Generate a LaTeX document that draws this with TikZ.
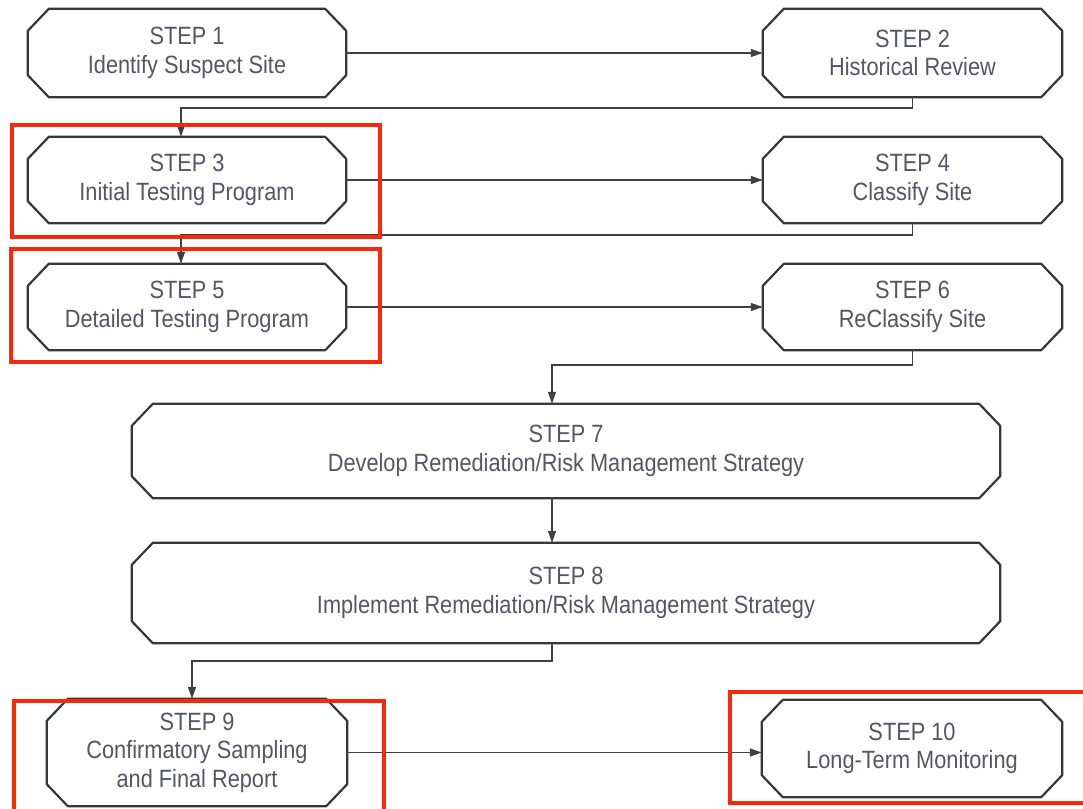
\documentclass[tikz,border=0pt]{standalone}
\usepackage{xcolor}
\usepackage{fontspec}
\setmainfont{Liberation Sans}[FakeStretch=0.87]
\usetikzlibrary{arrows.meta}

\definecolor{boxline}{RGB}{55,55,55}
\definecolor{steptext}{RGB}{85,85,100}
\definecolor{markred}{RGB}{250,40,10}

\tikzset{
  stepbox/.style={rectangle, inner sep=0pt, align=center, text=steptext,
    font=\fontsize{25}{28.5}\selectfont},
  flow/.style={draw=black!75, line width=1.3pt, -{Triangle[length=12pt,width=8pt]}},
  redframe/.style={draw=markred, line width=4pt}
}

\begin{document}
\begin{tikzpicture}[x=1pt,y=-1pt]
    \useasboundingbox (0,0) rectangle (1083,808);

    % 步骤框
    \node[stepbox, minimum width=318pt, minimum height=88pt] (s1) at (187,53) {STEP 1\\Identify Suspect Site};
    \node[stepbox, minimum width=299pt, minimum height=88pt] (s2) at (912.5,53) {STEP 2\\Historical Review};
    \node[stepbox, minimum width=318pt, minimum height=86pt] (s3) at (187,180) {STEP 3\\Initial Testing Program};
    \node[stepbox, minimum width=299pt, minimum height=86pt] (s4) at (912.5,180) {STEP 4\\Classify Site};
    \node[stepbox, minimum width=318pt, minimum height=86pt] (s5) at (187,307) {STEP 5\\Detailed Testing Program};
    \node[stepbox, minimum width=299pt, minimum height=86pt] (s6) at (912.5,307) {STEP 6\\ReClassify Site};
    \node[stepbox, minimum width=868pt, minimum height=94pt] (s7) at (566,451) {STEP 7\\Develop Remediation/Risk Management Strategy};
    \node[stepbox, minimum width=868pt, minimum height=100pt] (s8) at (566,593) {STEP 8\\Implement Remediation/Risk Management Strategy};
    \node[stepbox, minimum width=300pt, minimum height=107pt] (s9) at (197,752.5) {STEP 9\\Confirmatory Sampling\\and Final Report};
    \node[stepbox, minimum width=300pt, minimum height=97pt] (s10) at (912,748.5) {STEP 10\\Long-Term Monitoring};

    % 切角边框
    \foreach \n in {s1,s2,s3,s4,s5,s6,s7,s8,s9,s10}
      \draw[boxline, line width=2.2pt, line join=round]
        ([xshift=21pt]\n.north west) -- ([xshift=-21pt]\n.north east)
        -- ([yshift=-22pt]\n.north east) -- ([yshift=22pt]\n.south east)
        -- ([xshift=-21pt]\n.south east) -- ([xshift=21pt]\n.south west)
        -- ([yshift=22pt]\n.south west) -- ([yshift=-22pt]\n.north west) -- cycle;

    % 转折点
    \coordinate (j1) at (181,108);
    \coordinate (j2) at (181,235);
    \coordinate (j3) at (552,365);
    \coordinate (j4) at (192,661);

    % 连线
    \draw[flow] (s1.east) -- (s1.east -| s2.west);
    \draw[flow] (s3.east) -- (s3.east -| s4.west);
    \draw[flow] (s5.east) -- (s5.east -| s6.west);
    \draw[flow] (s9.east) -- (s9.east -| s10.west);
    \draw[flow] (s2.south) |- (j1) -- (j1 |- s3.north);
    \draw[flow] (s4.south) |- (j2) -- (j2 |- s5.north);
    \draw[flow] (s6.south) |- (j3) -- (j3 |- s7.north);
    \draw[flow] (s7.south -| j3) -- (j3 |- s8.north);
    \draw[flow] (s8.south -| j3) |- (j4) -- (j4 |- s9.north);

    % 红色标记框
    \draw[redframe] (12,125) rectangle (380,237);
    \draw[redframe] (11,249) rectangle (380,362);
    \draw[redframe] (14,701) rectangle (384,815);
    \draw[redframe] (730,692) rectangle (1092,803);
\end{tikzpicture}
\end{document}
